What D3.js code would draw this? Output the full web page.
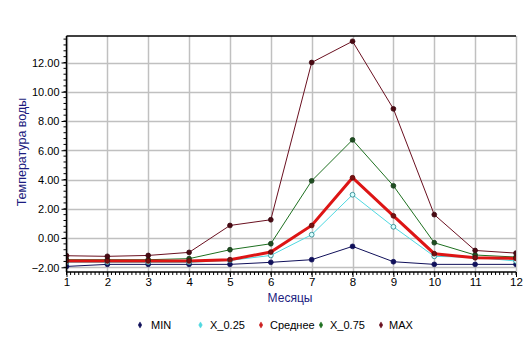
<!DOCTYPE html>
<html><head><meta charset="utf-8">
<script src="https://cdn.jsdelivr.net/npm/d3@7/dist/d3.min.js"></script>
<style>body{margin:0;background:#fff}svg{display:block}</style>
</head><body>
<svg id="c" width="532" height="347"></svg>
<script>
const months = [1,2,3,4,5,6,7,8,9,10,11,12];
const yTicks = [-2,0,2,4,6,8,10,12];
const seriesNames = ["MIN","X_0.25","Среднее","X_0.75","MAX"];
const minVals  = [-1.94,-1.80,-1.80,-1.80,-1.80,-1.66,-1.48,-0.57,-1.62,-1.80,-1.80,-1.80];
const q25Vals  = [-1.66,-1.66,-1.66,-1.66,-1.53,-1.19,0.23,2.96,0.77,-1.25,-1.32,-1.57];
const meanVals = [-1.57,-1.57,-1.57,-1.57,-1.48,-0.96,0.86,4.12,1.52,-1.07,-1.35,-1.39];
const q75Vals  = [-1.48,-1.48,-1.48,-1.41,-0.80,-0.39,3.91,6.71,3.57,-0.32,-1.16,-1.30];
const maxVals  = [-1.21,-1.25,-1.19,-0.98,0.86,1.25,12.0,13.45,8.83,1.60,-0.85,-1.03];

const series = [
  {name:seriesNames[0], vals:minVals,  color:"#10105a", w:1,   mfill:"#10105a", mstroke:"#10105a"},
  {name:seriesNames[1], vals:q25Vals,  color:"#4fd8e0", w:1,   mfill:"#d8ffff", mstroke:"#1f7f86"},
  {name:seriesNames[3], vals:q75Vals,  color:"#1e7020", w:1,   mfill:"#1f4f22", mstroke:"#153818"},
  {name:seriesNames[2], vals:meanVals, color:"#dd1515", w:3,   mfill:"#7a1010", mstroke:"#5a0808"},
  {name:seriesNames[4], vals:maxVals,  color:"#6a1020", w:1,   mfill:"#4a0a12", mstroke:"#3a0610"}
];

const svg = d3.select("#c");
const L = 66.5, R = 516, T = 36, B = 272;
const x = d3.scaleLinear().domain([1,12]).range([L,R]);
const y = d3.scaleLinear().domain([-2,12]).range([267.3,62.5]);
const yTop = y.invert(T), yBot = y.invert(B);
const font = "Liberation Sans, Arial, sans-serif";

// grid
const g = svg.append("g");
g.selectAll(".vg").data(months).enter().append("line")
  .attr("x1",d=>Math.round(x(d))+0.5).attr("x2",d=>Math.round(x(d))+0.5)
  .attr("y1",T).attr("y2",B).attr("stroke","#c0c0c0").attr("stroke-width",1.5);
g.selectAll(".hg").data(yTicks).enter().append("line")
  .attr("x1",L).attr("x2",R)
  .attr("y1",d=>Math.round(y(d))+0.5).attr("y2",d=>Math.round(y(d))+0.5)
  .attr("stroke","#c0c0c0").attr("stroke-width",1.5);

// clip
svg.append("clipPath").attr("id","pc").append("rect")
  .attr("x",L).attr("y",T).attr("width",R-L).attr("height",B-T);
const pg = svg.append("g").attr("clip-path","url(#pc)");
const line = d3.line().x((d,i)=>x(months[i])).y(d=>y(d));
series.forEach(s=>{
  pg.append("path").attr("d",line(s.vals)).attr("fill","none")
    .attr("stroke",s.color).attr("stroke-width",s.w).attr("stroke-linejoin","miter");
});
series.forEach(s=>{
  pg.selectAll(null).data(s.vals).enter().append("circle")
    .attr("cx",(d,i)=>x(months[i])).attr("cy",d=>y(d)).attr("r",2.4)
    .attr("fill",s.mfill).attr("stroke",s.mstroke).attr("stroke-width",0.8);
});

// top border
svg.append("line").attr("x1",L).attr("x2",R).attr("y1",T).attr("y2",T)
  .attr("stroke","#000").attr("stroke-width",1.5);

// y axis
const yAxis = d3.axisLeft(y).tickValues(yTicks).tickFormat(d3.format(".2f")).tickSize(5).tickPadding(2);
const ya = svg.append("g").attr("transform",`translate(${L},0)`).call(yAxis);
ya.select(".domain").attr("d",`M0,${T}V${B}`).attr("stroke","#000").attr("stroke-width",1.5);
ya.selectAll("text").attr("font-family",font).attr("font-size",11).attr("fill","#000").attr("dy","0.35em");
const yMinor = d3.range(-2.4, 13.81, 0.4).filter(v=>v>=yBot && v<=yTop);
ya.selectAll(".ym").data(yMinor).enter().append("line")
  .attr("x1",-3).attr("x2",0).attr("y1",d=>y(d)).attr("y2",d=>y(d)).attr("stroke","#000");

// x axis
const xAxis = d3.axisBottom(x).tickValues(months).tickFormat(d3.format("d")).tickSize(5).tickPadding(1);
const xa = svg.append("g").attr("transform",`translate(0,${B})`).call(xAxis);
xa.select(".domain").attr("d",`M${L},0H${R}`).attr("stroke","#000").attr("stroke-width",1.5);
xa.selectAll("text").attr("font-family",font).attr("font-size",11.5).attr("fill","#000");
const xMinor = d3.range(1, 12.001, 0.1);
xa.selectAll(".xm").data(xMinor).enter().append("line")
  .attr("x1",d=>x(d)).attr("x2",d=>x(d)).attr("y1",0).attr("y2",3).attr("stroke","#000");

// axis titles
svg.append("text").attr("x",290).attr("y",302).attr("text-anchor","middle")
  .attr("font-family",font).attr("font-size",12).attr("fill","#1c1c80").text("Месяцы");
svg.append("text").attr("transform","translate(26,152) rotate(-90)").attr("text-anchor","middle")
  .attr("font-family",font).attr("font-size",12.5).attr("fill","#1c1c80").text("Температура воды");

// legend
const legendItems = [
  {name:seriesNames[0], c:"#10105a", mx:140, tx:151},
  {name:seriesNames[1], c:"#4fd8e0", mx:200.5, tx:210},
  {name:seriesNames[2], c:"#cc2020", mx:261, tx:270},
  {name:seriesNames[3], c:"#1e7020", mx:321, tx:330},
  {name:seriesNames[4], c:"#6a1020", mx:381, tx:389}
];
const lg = svg.append("g");
legendItems.forEach(it=>{
  lg.append("path").attr("d",d3.symbol().type(d3.symbolDiamond).size(11)())
    .attr("transform",`translate(${it.mx},325)`).attr("fill",it.c).attr("stroke",it.c).attr("stroke-width",0.5);
  lg.append("text").attr("x",it.tx).attr("y",329).attr("font-family",font).attr("font-size",11)
    .attr("fill","#000").text(it.name);
});
</script>
</body></html>
